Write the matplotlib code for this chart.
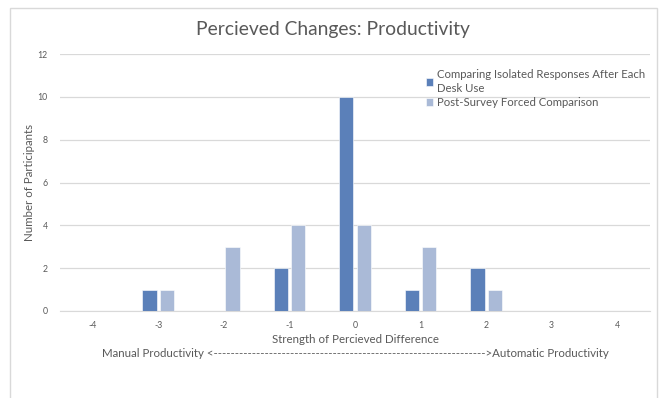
import numpy as np
import matplotlib.pyplot as plt
from matplotlib.patches import Rectangle

# survey counts per perceived-difference score
scores = [-4, -3, -2, -1, 0, 1, 2, 3, 4]
isolated = [0, 1, 0, 2, 10, 1, 2, 0, 0]
forced = [0, 1, 3, 4, 4, 3, 1, 0, 0]
series_names = ["Comparing Isolated Responses After Each\nDesk Use",
                "Post-Survey Forced Comparison"]

DARK = "#5b80b9"
LIGHT = "#aabad7"
GRID = "#d9d9d9"
TXT = "#595959"

plt.rcParams['font.family'] = ['Lato', 'DejaVu Sans']

fig = plt.figure(figsize=(6.65, 3.98), dpi=100)
W, H = 665, 398

# chart frame
fig.patches.append(Rectangle((10 / W, -0.1), 647 / W, 1.1 - 8 / H, transform=fig.transFigure,
                             fill=False, edgecolor="#d9d9d9", linewidth=1.0))

ax = fig.add_axes([60 / W, 1 - 311 / H, 590 / W, 257 / H])
x = np.arange(len(scores))
bw = 0.22
off = 0.133
ax.bar(x - off, isolated, bw, color=DARK, edgecolor="white", linewidth=0.4, zorder=3)
ax.bar(x + off, forced, bw, color=LIGHT, edgecolor="white", linewidth=0.4, zorder=3)

ax.set_xlim(-0.5, len(scores) - 0.5)
ax.set_ylim(0, 12)
ax.set_yticks(range(0, 13, 2))
ax.set_xticks(x)
ax.set_xticklabels([str(s) for s in scores])
ax.yaxis.grid(True, color=GRID, linewidth=0.9, zorder=0)
ax.set_axisbelow(True)
for side in ["top", "right", "left"]:
    ax.spines[side].set_visible(False)
ax.spines["bottom"].set_color(GRID)
ax.tick_params(axis="both", length=0, labelsize=6.3, colors=TXT)
ax.tick_params(axis="y", pad=9)
ax.tick_params(axis="x", pad=7)

ax.set_ylabel("Number of Participants", fontsize=8.3, color=TXT, va="center")
ax.yaxis.set_label_coords(-30 / 590, 0.5)
ax.set_xlabel("Strength of Percieved Difference\n"
              "Manual Productivity <" + "-" * 64 + ">Automatic Productivity",
              fontsize=8.3, color=TXT, linespacing=1.35, labelpad=3)

fig.text(333 / W, 1 - 29 / H, "Percieved Changes: Productivity", ha="center", va="center",
         fontsize=13.9, color=TXT)

leg = ax.legend(series_names, loc="upper left", bbox_to_anchor=(0.62, 0.94), frameon=False,
                fontsize=8.2, handlelength=0.65, handleheight=0.65, handletextpad=0.35,
                labelspacing=0.28, borderaxespad=0, borderpad=0)
for t in leg.get_texts():
    t.set_color(TXT)
    t.set_linespacing(1.25)

fig.savefig("out.png", dpi=100)
